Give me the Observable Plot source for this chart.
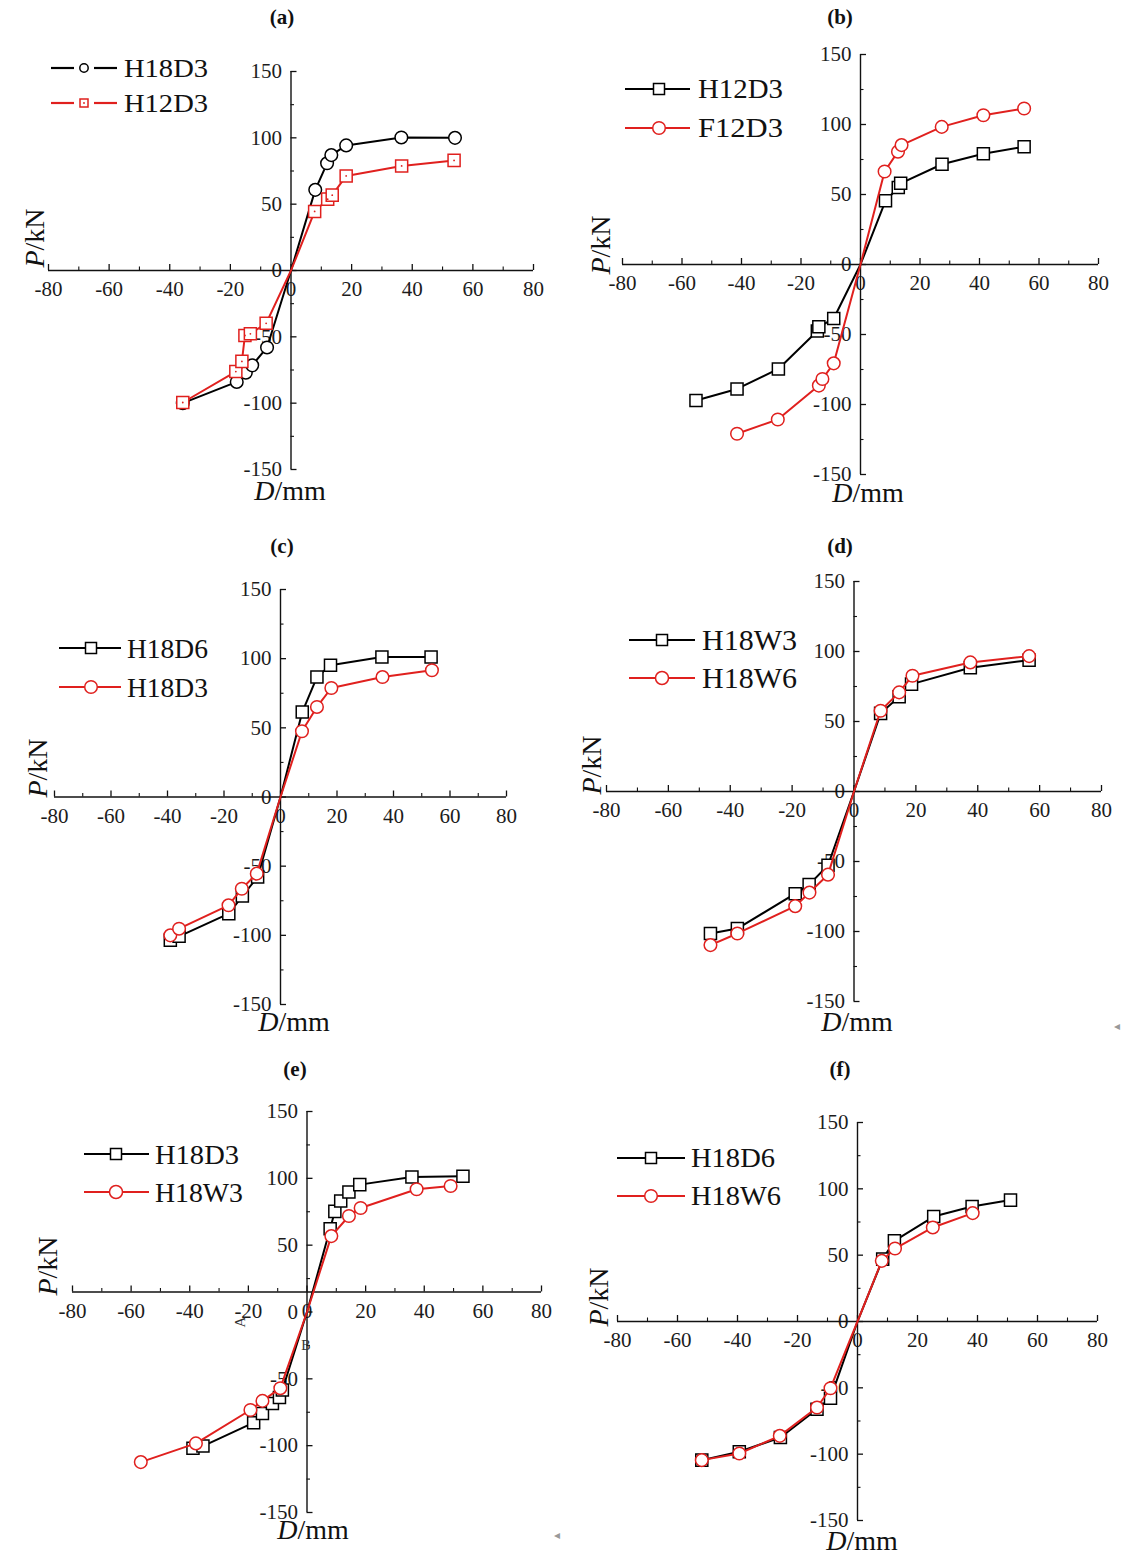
<!DOCTYPE html>
<html><head><meta charset="utf-8">
<script src="https://cdn.jsdelivr.net/npm/d3@7"></script>
<script src="https://cdn.jsdelivr.net/npm/@observablehq/plot@0.6"></script>
<style>
body{margin:0;background:#fff;}
#root{position:relative;width:1121px;height:1555px;overflow:hidden;background:#fff;font-family:"Liberation Serif","Times New Roman",serif;}
#root > svg{position:absolute;}
</style></head><body><div id="root"></div>
<script>
// ---- tick values ----
const xTicks = [-80,-60,-40,-20,0,20,40,60,80];
const xMinorTicks = [-70,-50,-30,-10,10,30,50,70];
const yTicks = [-150,-100,-50,0,50,100,150];
const yMinorTicks = [-125,-75,-25,25,75,125];
const panelLabels = ["(a)","(b)","(c)","(d)","(e)","(f)"];

// ---- (a) ----
const aH18D3x = [-35.7,-17.9,-14.9,-12.8,-7.9,0,8.0,11.9,13.3,18.2,36.4,54.1];
const aH18D3y = [-100,-84,-77,-71.5,-58,0,60.8,80.8,87,94.3,100.3,100];
const aH12D3x = [-35.7,-18.2,-16.2,-15.2,-13.4,-8.2,0,7.8,12.1,13.6,18.2,36.5,53.8];
const aH12D3y = [-99.5,-76.2,-68.5,-49,-47.7,-39.8,0,44.5,53.8,56.8,71.3,78.8,83];
// ---- (b) ----
const bH12D3x = [-55.3,-41.5,-27.6,-14.5,-14.0,-9.0,0,8.4,12.7,13.5,27.4,41.3,55.0];
const bH12D3y = [-97.2,-88.9,-74.6,-47.5,-44.5,-38.6,0,45.5,55,58,71.6,79.1,84.1];
const bF12D3x = [-41.5,-27.8,-14.0,-12.8,-9.0,0,8.1,12.6,13.8,27.3,41.3,55.0];
const bF12D3y = [-120.9,-110.7,-86.5,-81.8,-70.6,0,66.4,80.6,85.3,98.3,106.6,111.4];
// ---- (c) ----
const cH18D6x = [-39.0,-35.9,-18.3,-13.5,-8.1,0,7.7,12.9,17.7,35.9,53.3];
const cH18D6y = [-103.6,-100.7,-84.3,-71.6,-57.8,0,61.4,86.7,95.2,101.2,101.2];
const cH18D3x = [-39.0,-35.9,-18.4,-13.7,-8.4,0,7.6,12.9,18.0,36.1,53.6];
const cH18D3y = [-100,-95.2,-78.3,-66.3,-55.4,0,47.5,65.1,78.8,86.7,91.6];
// ---- (d) ----
const dH18W3x = [-46.4,-37.7,-19.0,-14.5,-8.4,0,8.6,14.6,18.6,37.6,56.6];
const dH18W3y = [-101.4,-97.9,-73,-66.5,-52.7,0,55.8,67.7,76.7,88.4,93.8];
const dH18W6x = [-46.4,-37.7,-19.0,-14.4,-8.4,0,8.6,14.6,18.9,37.6,56.6];
const dH18W6y = [-109.7,-101.4,-81.9,-72.2,-59.4,0,57.7,70.8,82.7,92.2,96.7];
// ---- (e) ----
const eH18D3x = [-38.9,-35.5,-18.2,-15.2,-11.8,-9.4,-8.4,0,7.9,9.5,11.5,14.3,18.0,35.8,53.2];
const eH18D3y = [-102,-100.3,-82.8,-76,-68.5,-64,-58.3,0,62.3,75.3,83,89.8,95.3,101,101.5];
const eH18W3x = [-56.7,-37.9,-19.3,-15.2,-9.1,0,8.3,14.3,18.3,37.4,49.0];
const eH18W3y = [-112.3,-98.3,-73.3,-66.5,-57,0,56.8,71.8,77.8,91.8,94.3];
// ---- (f) ----
const fH18D6x = [-51.9,-39.4,-25.7,-13.5,-9.0,0,8.4,12.3,25.4,38.2,51.0];
const fH18D6y = [-104.5,-98.2,-87.4,-66.1,-57.8,0,47,60.8,79.1,86.7,91.5];
const fH18W6x = [-51.9,-39.4,-25.9,-13.5,-9.0,0,8.1,12.5,25.1,38.4];
const fH18W6y = [-104.5,-99.5,-86.2,-64.8,-50.3,0,45.7,55,70.9,81.7];

const BLACK = "#000000", RED = "#e0201e";
const pts = (xs, ys) => xs.map((v, i) => ({x: v, y: ys[i]}));

const panels = [
  {xL:48, xR:533, yT:71, yB:469, axisY:0,
   title:{x:282,y:17}, ylab:{x:34,y:238}, xlab:{x:290,y:490},
   leg:{x0:51,x1:117,mx:84,tx:124,ys:[68,103],fs:25,gap:10,mr:4.2,ms:8,tl:[84,84]},
   s:[{name:"H18D3",data:pts(aH18D3x,aH18D3y),color:BLACK,sym:"circle"},
      {name:"H12D3",data:pts(aH12D3x,aH12D3y),color:RED,sym:"square",center:true}]},
  {xL:622, xR:1098, yT:54, yB:474, axisY:0,
   title:{x:840,y:17}, ylab:{x:600,y:245}, xlab:{x:868,y:492},
   leg:{x0:625,x1:690,mx:659,tx:698,ys:[89,128],fs:27,gap:0,mr:6.3,ms:11,tl:[85,85]},
   s:[{name:"H12D3",data:pts(bH12D3x,bH12D3y),color:BLACK,sym:"square"},
      {name:"F12D3",data:pts(bF12D3x,bF12D3y),color:RED,sym:"circle"}]},
  {xL:54, xR:506, yT:589, yB:1004, axisY:0,
   title:{x:282,y:546}, ylab:{x:37,y:768}, xlab:{x:294,y:1021},
   leg:{x0:59,x1:121,mx:91,tx:127,ys:[648,687],fs:28,gap:0,mr:6.3,ms:11,tl:[81,81]},
   s:[{name:"H18D6",data:pts(cH18D6x,cH18D6y),color:BLACK,sym:"square"},
      {name:"H18D3",data:pts(cH18D3x,cH18D3y),color:RED,sym:"circle"}]},
  {xL:606, xR:1101, yT:581, yB:1001, axisY:0,
   title:{x:840,y:546}, ylab:{x:591,y:765}, xlab:{x:857,y:1021},
   leg:{x0:629,x1:695,mx:662,tx:702,ys:[640,678],fs:29,gap:0,mr:6.5,ms:11,tl:[95,95]},
   s:[{name:"H18W3",data:pts(dH18W3x,dH18W3y),color:BLACK,sym:"square"},
      {name:"H18W6",data:pts(dH18W6x,dH18W6y),color:RED,sym:"circle"}]},
  {xL:72, xR:541, yT:1111, yB:1512, axisY:15,
   title:{x:295,y:1069}, ylab:{x:47,y:1266}, xlab:{x:313,y:1529},
   leg:{x0:84,x1:149,mx:116,tx:155,ys:[1154,1192],fs:28,gap:0,mr:6.5,ms:11,tl:[84,88]},
   s:[{name:"H18D3",data:pts(eH18D3x,eH18D3y),color:BLACK,sym:"square"},
      {name:"H18W3",data:pts(eH18W3x,eH18W3y),color:RED,sym:"circle"}]},
  {xL:617, xR:1097, yT:1122, yB:1520, axisY:0,
   title:{x:840,y:1069}, ylab:{x:598,y:1297}, xlab:{x:862,y:1540},
   leg:{x0:617,x1:685,mx:651,tx:691,ys:[1158,1196],fs:27,gap:0,mr:6.3,ms:11,tl:[84,90]},
   s:[{name:"H18D6",data:pts(fH18D6x,fH18D6y),color:BLACK,sym:"square"},
      {name:"H18W6",data:pts(fH18W6x,fH18W6y),color:RED,sym:"circle"}]}
];

const root = document.getElementById("root");
const ML = 60, MR = 30, MT = 25, MB = 30;

panels.forEach(p => {
  const pxX = (p.xR - p.xL) / 160, pxY = (p.yB - p.yT) / 300;
  const xMaj = 6 / pxY, xMin = 3.5 / pxY, yMaj = 6 / pxX, yMin = 3.5 / pxX;
  const ax = p.axisY;
  const seriesMarks = [];
  p.s.forEach(s => {
    const markers = s.data.filter(d => d.x !== 0 || d.y !== 0);
    seriesMarks.push(Plot.line(s.data, {x: "x", y: "y", stroke: s.color, strokeWidth: 2}));
    seriesMarks.push(Plot.dot(markers, {x: "x", y: "y", symbol: s.sym,
      r: s.sym === "square" ? 6.8 : 6.3, stroke: s.color, strokeWidth: 1.5, fill: "white"}));
    if (s.center) seriesMarks.push(Plot.dot(markers, {x: "x", y: "y", r: 0.9, fill: s.color}));
  });
  const chart = Plot.plot({
    width: (p.xR - p.xL) + ML + MR,
    height: (p.yB - p.yT) + MT + MB,
    marginLeft: ML, marginRight: MR, marginTop: MT, marginBottom: MB,
    x: {domain: [-80, 80], axis: null},
    y: {domain: [-150, 150], axis: null},
    style: {overflow: "visible", background: "transparent", fontFamily: "'Liberation Serif', serif"},
    marks: [
      Plot.text(xTicks, {x: d => d, y: ax, dy: 19, text: d => String(d), fontSize: 21, fill: "#1c1c1c"}),
      Plot.text(yTicks, {x: 0, y: d => d, dx: -9, textAnchor: "end", text: d => String(d), fontSize: 21, fill: "#1c1c1c"}),
      Plot.ruleY([ax], {x1: -80, x2: 80, stroke: "#111", strokeWidth: 1.4}),
      Plot.ruleX([0], {y1: -150, y2: 150, stroke: "#111", strokeWidth: 1.4}),
      Plot.ruleX(xTicks, {x: d => d, y1: ax, y2: ax + xMaj, stroke: "#111", strokeWidth: 1.3}),
      Plot.ruleX(xMinorTicks, {x: d => d, y1: ax, y2: ax + xMin, stroke: "#111", strokeWidth: 1.1}),
      Plot.ruleY(yTicks, {y: d => d, x1: 0, x2: yMaj, stroke: "#111", strokeWidth: 1.3}),
      Plot.ruleY(yMinorTicks, {y: d => d, x1: 0, x2: yMin, stroke: "#111", strokeWidth: 1.1}),
      ...seriesMarks
    ]
  });
  chart.style.left = (p.xL - ML) + "px";
  chart.style.top = (p.yT - MT) + "px";
  root.appendChild(chart);
});

// ---- overlay: titles, legends, axis titles ----
const ov = d3.select(root).append("svg")
  .attr("width", 1121).attr("height", 1555)
  .style("left", "0px").style("top", "0px")
  .style("font-family", "'Liberation Serif', 'Times New Roman', serif");

panels.forEach((p, i) => {
  ov.append("text").attr("x", p.title.x).attr("y", p.title.y)
    .attr("text-anchor", "middle").attr("dominant-baseline", "central")
    .attr("font-size", 21).attr("font-weight", "bold").attr("fill", "#111")
    .text(panelLabels[i]);

  const yl = ov.append("text")
    .attr("transform", `translate(${p.ylab.x},${p.ylab.y}) rotate(-90)`)
    .attr("text-anchor", "middle").attr("dominant-baseline", "central")
    .attr("font-size", 28).attr("fill", "#111");
  yl.append("tspan").attr("font-style", "italic").text("P");
  yl.append("tspan").text("/kN");

  const xl = ov.append("text").attr("x", p.xlab.x).attr("y", p.xlab.y)
    .attr("text-anchor", "middle").attr("dominant-baseline", "central")
    .attr("font-size", 28).attr("fill", "#111");
  xl.append("tspan").attr("font-style", "italic").text("D");
  xl.append("tspan").text("/mm");

  const L = p.leg;
  p.s.forEach((s, j) => {
    const y = L.ys[j];
    const g = ov.append("g");
    const half = L.gap || 0;
    if (half > 0) {
      g.append("line").attr("x1", L.x0).attr("x2", L.mx - half).attr("y1", y).attr("y2", y)
        .attr("stroke", s.color).attr("stroke-width", 2.2);
      g.append("line").attr("x1", L.mx + half).attr("x2", L.x1).attr("y1", y).attr("y2", y)
        .attr("stroke", s.color).attr("stroke-width", 2.2);
    } else {
      g.append("line").attr("x1", L.x0).attr("x2", L.x1).attr("y1", y).attr("y2", y)
        .attr("stroke", s.color).attr("stroke-width", 2.2);
    }
    if (s.sym === "circle") {
      g.append("circle").attr("cx", L.mx).attr("cy", y).attr("r", L.mr)
        .attr("fill", "white").attr("stroke", s.color).attr("stroke-width", 1.5);
    } else {
      g.append("rect").attr("x", L.mx - L.ms / 2).attr("y", y - L.ms / 2)
        .attr("width", L.ms).attr("height", L.ms)
        .attr("fill", "white").attr("stroke", s.color).attr("stroke-width", 1.5);
      if (s.center) g.append("circle").attr("cx", L.mx).attr("cy", y).attr("r", 0.9).attr("fill", s.color);
    }
    g.append("text").attr("x", L.tx).attr("y", y)
      .attr("dominant-baseline", "central").attr("font-size", L.fs).attr("fill", "#111")
      .attr("textLength", L.tl[j]).attr("lengthAdjust", "spacingAndGlyphs")
      .text(s.name);
  });
});

// stray annotations in panel (e)
ov.append("text").attr("transform", "translate(240,1322) rotate(-90)")
  .attr("text-anchor", "middle").attr("dominant-baseline", "central")
  .attr("font-size", 15).attr("fill", "#333").text("A");
ov.append("text").attr("x", 306).attr("y", 1345)
  .attr("text-anchor", "middle").attr("dominant-baseline", "central")
  .attr("font-size", 14).attr("fill", "#333").text("B");
ov.append("text").attr("x", 1117).attr("y", 1026).attr("text-anchor", "middle")
  .attr("dominant-baseline", "central").attr("font-size", 12).attr("fill", "#999").text("◂");
ov.append("text").attr("x", 557).attr("y", 1535).attr("text-anchor", "middle")
  .attr("dominant-baseline", "central").attr("font-size", 12).attr("fill", "#999").text("◂");
</script>
</body></html>
